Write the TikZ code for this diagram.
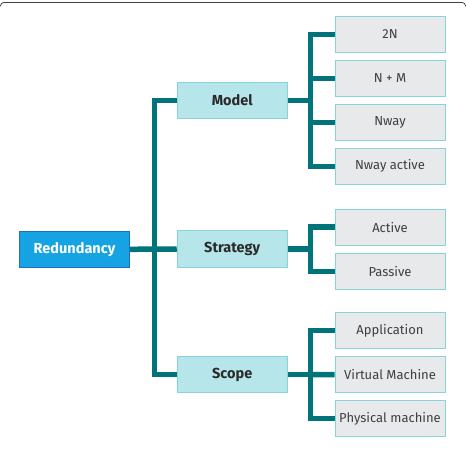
\documentclass[tikz,border=0pt]{standalone}
\usepackage{fontspec}
\setmainfont{Fira Sans}
\definecolor{teal1}{HTML}{00737B}
\definecolor{midfill}{HTML}{B6E6EA}
\definecolor{midline}{HTML}{86D3D9}
\definecolor{leaffill}{HTML}{E8E9EB}
\definecolor{rootfill}{HTML}{16A3E3}
\definecolor{rootline}{HTML}{1B72BA}
\definecolor{txt}{HTML}{2A2A2A}
\definecolor{frame}{HTML}{404040}
\tikzset{
  rootbox/.style={draw=rootline, fill=rootfill, line width=0.9pt, minimum width=110pt, minimum height=36.5pt, inner sep=0pt, text=white, font=\fontsize{14.5}{16}\selectfont\bfseries},
  midbox/.style={draw=midline, fill=midfill, line width=0.9pt, minimum width=110pt, minimum height=36.5pt, inner sep=0pt, text=txt, font=\fontsize{14.5}{16}\selectfont\bfseries},
  leafbox/.style={draw=midline, fill=leaffill, line width=0.9pt, minimum width=110pt, minimum height=36pt, inner sep=0pt, text=txt!90, font=\fontsize{13}{15}\selectfont},
  conn/.style={draw=teal1, line width=5.5pt, line join=miter}
}
\begin{document}
\begin{tikzpicture}[x=1pt,y=-1pt]
\useasboundingbox (0,0) rectangle (466,454);
\draw[frame, line width=0.8pt, rounded corners=3pt] (0.6,6.5) -- (0.6,2.6) -- (465.4,2.6) -- (465.4,6.5);

\node[rootbox] (red) at (74.5,249.3) {Redundancy};
\node[midbox] (model) at (232.2,100.3) {Model};
\node[midbox] (strat) at (232.2,249) {Strategy};
\node[midbox] (scope) at (232.2,374.5) {Scope};

\node[leafbox] (l1) at (390,34.5) {2N};
\node[leafbox] (l2) at (390,78.5) {N + M};
\node[leafbox] (l3) at (390,122.3) {Nway};
\node[leafbox] (l4) at (390,166.3) {Nway active};
\node[leafbox] (s1) at (390,227.2) {Active};
\node[leafbox] (s2) at (390,271.3) {Passive};
\node[leafbox] (c1) at (390,330.5) {Application};
\node[leafbox] (c2) at (390,374.7) {Virtual Machine};
\node[leafbox] (c3) at (390,418.7) {Physical machine};

\coordinate (jT) at (154.5,249.2);
\coordinate (jM) at (310.5,100.3);
\coordinate (jS) at (310.5,249);
\coordinate (jC) at (310.5,374.5);

\draw[conn] (red.east) -- (strat.west);
\draw[conn] (model.west) -| (jT) |- (scope.west);

\draw[conn] (model.east) -- (jM);
\draw[conn] (l1.west) -| (jM) |- (l4.west);
\draw[conn] (l2.west) -| (jM);
\draw[conn] (l3.west) -| (jM);

\draw[conn] (strat.east) -- (jS);
\draw[conn] (s1.west) -| (jS) |- (s2.west);

\draw[conn] (scope.east) -- (jC);
\draw[conn] (c1.west) -| (jC) |- (c3.west);
\draw[conn] (c2.west) -- (jC);
\end{tikzpicture}
\end{document}
